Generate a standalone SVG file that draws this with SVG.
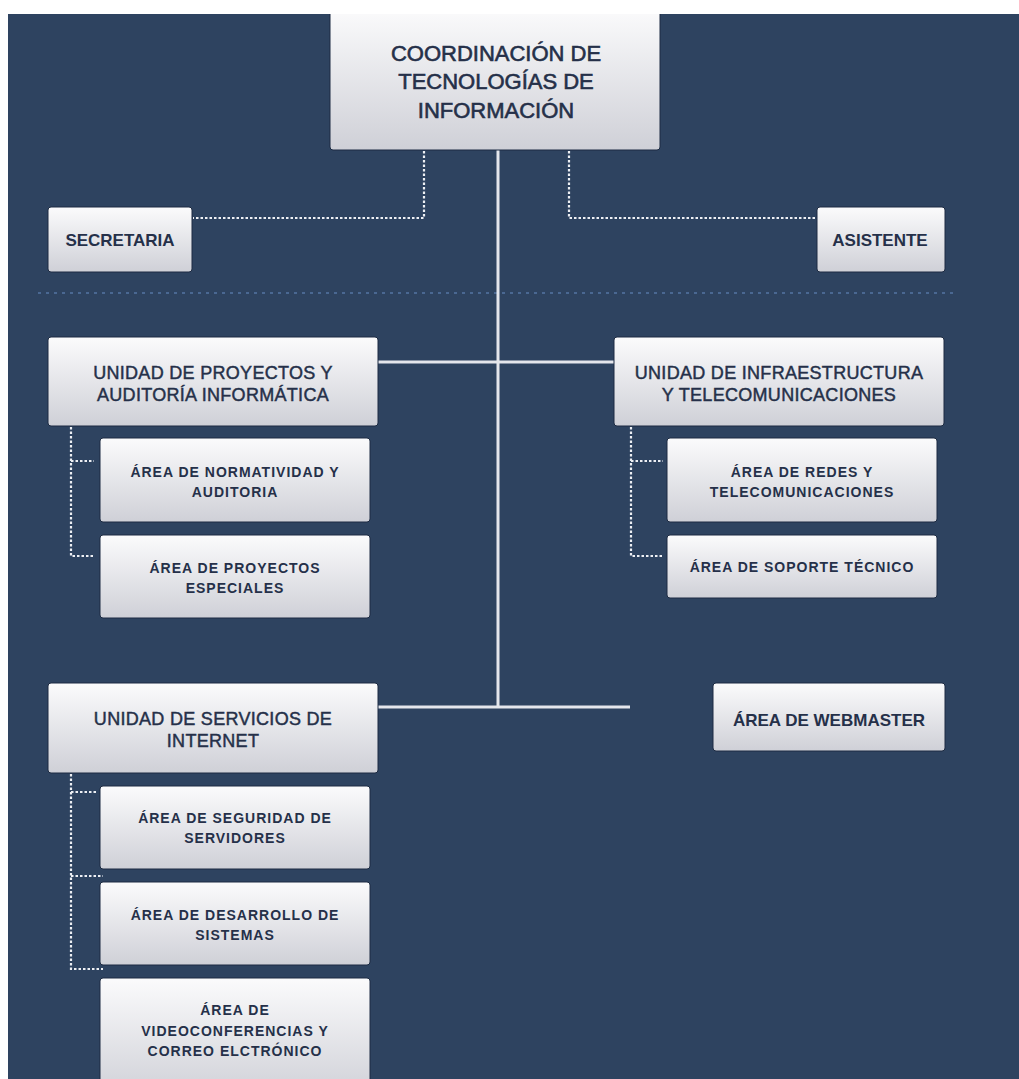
<svg xmlns="http://www.w3.org/2000/svg" width="1019" height="1079" viewBox="0 0 1019 1079">
<defs>
<linearGradient id="g" x1="0" y1="0" x2="0" y2="1">
<stop offset="0" stop-color="#fbfbfc"/>
<stop offset="1" stop-color="#cfd0d7"/>
</linearGradient>
<clipPath id="bg"><rect x="8" y="14" width="1011" height="1065"/></clipPath>
</defs>
<style>
.box{fill:url(#g);stroke:#1d2b42;stroke-width:1}
.t{font-family:"Liberation Sans",Arial,sans-serif;fill:#253049;text-anchor:middle}
.title{font-size:22px;stroke:#253049;stroke-width:0.6}
.big{font-size:17px;font-weight:bold}
.unit{font-size:18px;letter-spacing:0.3px;stroke:#253049;stroke-width:0.45}
.area{font-size:14px;font-weight:bold;letter-spacing:1px}
.dot{fill:none;stroke:#eef0f4;stroke-width:2.2;stroke-dasharray:2.5 2}
.solid{fill:none;stroke:#e4e6ec;stroke-width:3}
.sep{fill:none;stroke:#4a6892;stroke-width:2;stroke-dasharray:3 5}
</style>
<rect x="0" y="0" width="1019" height="1079" fill="#ffffff"/>
<rect x="8" y="14" width="1011" height="1065" fill="#2e4360"/>
<g clip-path="url(#bg)">
<line class="sep" x1="38" y1="293" x2="953" y2="293"/>
<g id="connectors">
<polyline class="dot" points="424,151 424,218 193,218"/>
<polyline class="dot" points="569,151 569,218 816,218"/>
<line class="solid" x1="498" y1="150" x2="498" y2="708"/>
<line class="solid" x1="378" y1="362" x2="614" y2="362"/>
<line class="solid" x1="378" y1="707" x2="630" y2="707"/>
<polyline class="dot" points="71,427 71,556 94,556"/>
<line class="dot" x1="71" y1="461" x2="94" y2="461"/>
<polyline class="dot" points="631,427 631,556 663,556"/>
<line class="dot" x1="631" y1="461" x2="663" y2="461"/>
<polyline class="dot" points="71,774 71,969 103,969"/>
<line class="dot" x1="71" y1="792" x2="96" y2="792"/>
<line class="dot" x1="71" y1="876" x2="103" y2="876"/>
</g>
<g id="coordinacion">
<rect class="box" x="330" y="8" width="330" height="142" rx="3"/>
<text class="t title" x="496" y="61">COORDINACIÓN DE</text>
<text class="t title" x="496" y="89">TECNOLOGÍAS DE</text>
<text class="t title" x="496" y="118">INFORMACIÓN</text>
</g>
<g id="secretaria">
<rect class="box" x="48" y="207" width="144" height="65" rx="3"/>
<text class="t big" x="120" y="246">SECRETARIA</text>
</g>
<g id="asistente">
<rect class="box" x="817" y="207" width="128" height="65" rx="3"/>
<text class="t big" x="880" y="246">ASISTENTE</text>
</g>
<g id="unidad-proyectos">
<rect class="box" x="48" y="337" width="330" height="89" rx="3"/>
<text class="t unit" x="213" y="379">UNIDAD DE PROYECTOS Y</text>
<text class="t unit" x="213" y="401">AUDITORÍA INFORMÁTICA</text>
</g>
<g id="area-normatividad">
<rect class="box" x="100" y="438" width="270" height="84" rx="3"/>
<text class="t area" x="235" y="477">ÁREA DE NORMATIVIDAD Y</text>
<text class="t area" x="235" y="497">AUDITORIA</text>
</g>
<g id="area-proyectos-especiales">
<rect class="box" x="100" y="535" width="270" height="83" rx="3"/>
<text class="t area" x="235" y="573">ÁREA DE PROYECTOS</text>
<text class="t area" x="235" y="593">ESPECIALES</text>
</g>
<g id="unidad-infraestructura">
<rect class="box" x="614" y="337" width="330" height="89" rx="3"/>
<text class="t unit" x="779" y="379">UNIDAD DE INFRAESTRUCTURA</text>
<text class="t unit" x="779" y="401">Y TELECOMUNICACIONES</text>
</g>
<g id="area-redes">
<rect class="box" x="667" y="438" width="270" height="84" rx="3"/>
<text class="t area" x="802" y="477">ÁREA DE REDES Y</text>
<text class="t area" x="802" y="497">TELECOMUNICACIONES</text>
</g>
<g id="area-soporte">
<rect class="box" x="667" y="535" width="270" height="63" rx="3"/>
<text class="t area" x="802" y="572">ÁREA DE SOPORTE TÉCNICO</text>
</g>
<g id="unidad-servicios">
<rect class="box" x="48" y="683" width="330" height="90" rx="3"/>
<text class="t unit" x="213" y="725">UNIDAD DE SERVICIOS DE</text>
<text class="t unit" x="213" y="747">INTERNET</text>
</g>
<g id="area-webmaster">
<rect class="box" x="713" y="683" width="232" height="68" rx="3"/>
<text class="t big" x="829" y="726">ÁREA DE WEBMASTER</text>
</g>
<g id="area-seguridad">
<rect class="box" x="100" y="786" width="270" height="83" rx="3"/>
<text class="t area" x="235" y="823">ÁREA DE SEGURIDAD DE</text>
<text class="t area" x="235" y="843">SERVIDORES</text>
</g>
<g id="area-desarrollo">
<rect class="box" x="100" y="882" width="270" height="83" rx="3"/>
<text class="t area" x="235" y="920">ÁREA DE DESARROLLO DE</text>
<text class="t area" x="235" y="940">SISTEMAS</text>
</g>
<g id="area-videoconferencias">
<rect class="box" x="100" y="978" width="270" height="120" rx="3"/>
<text class="t area" x="235" y="1015">ÁREA DE</text>
<text class="t area" x="235" y="1036">VIDEOCONFERENCIAS Y</text>
<text class="t area" x="235" y="1056">CORREO ELCTRÓNICO</text>
</g>
</g>
</svg>
